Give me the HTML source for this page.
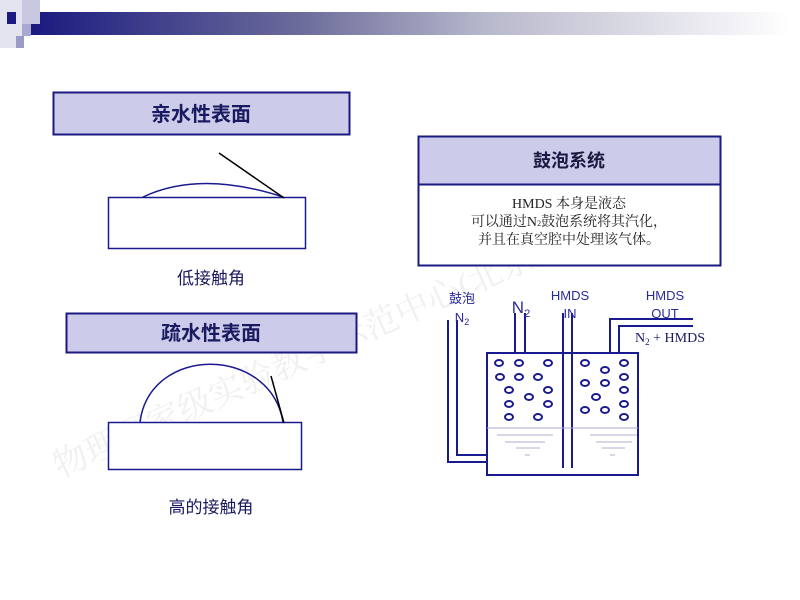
<!DOCTYPE html>
<html><head><meta charset="utf-8"><style>
body{margin:0;background:#fff;}
svg{display:block;}
</style></head><body>
<svg width="800" height="600" xmlns="http://www.w3.org/2000/svg" font-family="Liberation Sans, Noto Sans CJK SC, sans-serif">
<defs>
<linearGradient id="g" x1="0" x2="1" y1="0" y2="0">
<stop offset="0" stop-color="#1a1a80"/><stop offset="0.35" stop-color="#6a6a9a"/><stop offset="0.6" stop-color="#b8b8cc"/><stop offset="1" stop-color="#ffffff"/>
</linearGradient>
</defs>
<rect x="0" y="0" width="800" height="600" fill="#fff"/>
<rect x="30" y="12" width="760" height="23" fill="url(#g)"/>
<rect x="0" y="0" width="22" height="48" fill="#e4e4f0"/>
<rect x="22" y="0" width="18" height="24" fill="#c8c8e0"/>
<rect x="7" y="12" width="9" height="12" fill="#1a1a80"/>
<rect x="22" y="24" width="9" height="12" fill="#a8a8d0"/>
<rect x="16" y="36" width="8" height="12" fill="#9a9ac8"/>
<text x="60" y="478" transform="rotate(-24 60 478)" font-size="34" fill="#f0f0f0" font-family="Liberation Serif, Noto Serif CJK SC, serif">物理国家级实验教学示范中心(北京大学)</text>
<rect x="53.5" y="92.5" width="296" height="42" fill="#ccccea" stroke="#1a1a80" stroke-width="2"/>
<text x="201" y="121" font-size="20" font-weight="bold" text-anchor="middle" fill="#1a1a60">亲水性表面</text>
<rect x="108.5" y="197.5" width="197" height="51" fill="#fff" stroke="#1a1a90" stroke-width="1.5"/>
<path d="M143 197 Q200 170 283 197" fill="none" stroke="#1a1a90" stroke-width="1.5"/>
<line x1="219" y1="153" x2="284" y2="198" stroke="#000" stroke-width="1.5"/>
<text x="211" y="284" font-size="17" text-anchor="middle" fill="#1a1a60">低接触角</text>
<rect x="66.5" y="313.5" width="290" height="39" fill="#ccccea" stroke="#1a1a80" stroke-width="2"/>
<text x="211" y="340" font-size="20" font-weight="bold" text-anchor="middle" fill="#1a1a60">疏水性表面</text>
<rect x="108.5" y="422.5" width="193" height="47" fill="#fff" stroke="#1a1a90" stroke-width="1.5"/>
<path d="M140 422 C150 345 270 345 283 422" fill="none" stroke="#1a1a90" stroke-width="1.5"/>
<line x1="271" y1="376" x2="284" y2="423" stroke="#000" stroke-width="1.5"/>
<text x="211" y="513" font-size="17" text-anchor="middle" fill="#1a1a60">高的接触角</text>
<rect x="418.5" y="136.5" width="302" height="48" fill="#ccccea" stroke="#1a1a80" stroke-width="2"/>
<rect x="418.5" y="184.5" width="302" height="81" fill="#fff" stroke="#1a1a80" stroke-width="2"/>
<text x="569" y="167" font-size="18" font-weight="bold" text-anchor="middle" fill="#1a1a40">鼓泡系统</text>
<g font-family="Liberation Serif, Noto Serif CJK SC, serif" font-size="14" fill="#222" text-anchor="middle">
<text x="569" y="208">HMDS 本身是液态</text>
<text x="569" y="226">可以通过N<tspan font-size="8">2</tspan>鼓泡系统将其汽化，</text>
<text x="569" y="244">并且在真空腔中处理该气体。</text>
</g>
<g stroke="#1a1a90" stroke-width="2" fill="none">
<rect x="487" y="353" width="151" height="122"/>
<line x1="563" y1="313" x2="563" y2="468"/>
<line x1="572" y1="313" x2="572" y2="468"/>
<polyline points="448,320 448,462 487,462"/>
<polyline points="457,320 457,455 487,455"/>
<line x1="515" y1="313" x2="515" y2="353"/>
<line x1="525" y1="313" x2="525" y2="353"/>
<polyline points="610,353 610,319 693,319"/>
<polyline points="619,353 619,326 693,326"/>
</g>
<line x1="487" y1="428" x2="638" y2="428" stroke="#aaaad0" stroke-width="1"/>
<g stroke="#b0b0c8" stroke-width="1">
<line x1="497" y1="435" x2="553" y2="435"/><line x1="505" y1="442" x2="545" y2="442"/><line x1="516" y1="448" x2="540" y2="448"/><line x1="525" y1="455" x2="530" y2="455"/>
<line x1="590" y1="435" x2="637" y2="435"/><line x1="596" y1="442" x2="632" y2="442"/><line x1="602" y1="448" x2="625" y2="448"/><line x1="610" y1="455" x2="615" y2="455"/>
</g>
<g stroke="#1a1a90" stroke-width="2" fill="none">
<ellipse cx="499" cy="363" rx="4" ry="3"/><ellipse cx="519" cy="363" rx="4" ry="3"/><ellipse cx="548" cy="363" rx="4" ry="3"/>
<ellipse cx="500" cy="377" rx="4" ry="3"/><ellipse cx="519" cy="377" rx="4" ry="3"/><ellipse cx="538" cy="377" rx="4" ry="3"/>
<ellipse cx="509" cy="390" rx="4" ry="3"/><ellipse cx="548" cy="390" rx="4" ry="3"/><ellipse cx="529" cy="397" rx="4" ry="3"/>
<ellipse cx="509" cy="404" rx="4" ry="3"/><ellipse cx="548" cy="404" rx="4" ry="3"/>
<ellipse cx="509" cy="417" rx="4" ry="3"/><ellipse cx="538" cy="417" rx="4" ry="3"/>
<ellipse cx="585" cy="363" rx="4" ry="3"/><ellipse cx="624" cy="363" rx="4" ry="3"/><ellipse cx="605" cy="370" rx="4" ry="3"/>
<ellipse cx="585" cy="383" rx="4" ry="3"/><ellipse cx="605" cy="383" rx="4" ry="3"/><ellipse cx="624" cy="377" rx="4" ry="3"/>
<ellipse cx="624" cy="390" rx="4" ry="3"/><ellipse cx="596" cy="397" rx="4" ry="3"/><ellipse cx="624" cy="404" rx="4" ry="3"/>
<ellipse cx="585" cy="410" rx="4" ry="3"/><ellipse cx="605" cy="410" rx="4" ry="3"/><ellipse cx="624" cy="417" rx="4" ry="3"/>
</g>
<g fill="#2a2aa0" font-size="13" text-anchor="middle">
<text x="462" y="303">鼓泡</text>
<text x="462" y="322">N<tspan font-size="9" dy="3">2</tspan></text>
<text x="521" y="313" font-size="17">N<tspan font-size="11" dy="4">2</tspan></text>
<text x="570" y="300">HMDS</text>
<text x="570" y="318">IN</text>
<text x="665" y="300">HMDS</text>
<text x="665" y="318">OUT</text>
</g>
<text x="635" y="342" font-size="14" fill="#1a1a60" font-family="Liberation Serif, serif">N<tspan font-size="9" dy="3">2</tspan><tspan dy="-3"> + HMDS</tspan></text>
</svg>
</body></html>
